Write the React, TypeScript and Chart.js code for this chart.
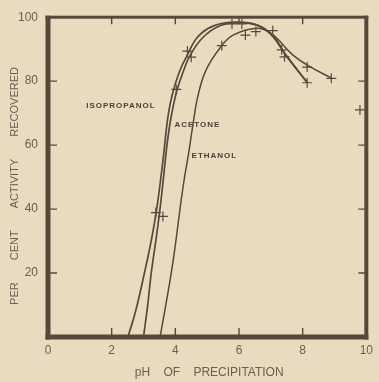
import React, { useEffect, useRef } from "react";
import { Chart, registerables } from "chart.js";

Chart.register(...registerables);

// Isopropanol curve
const isoPH = [2.51, 2.75, 3.04, 3.27, 3.44, 3.56, 3.65, 3.73, 3.83, 3.95, 4.15, 4.35, 4.7, 5.2, 5.9, 6.6, 7.06, 7.46, 8.15];
const isoV = [0, 8, 20.5, 31.5, 41.8, 51, 58.5, 66, 72.5, 77.5, 83.5, 87.6, 93.8, 97.3, 98.5, 97.5, 94, 88.3, 79.5];
// Acetone curve
const acePH = [3.0, 3.12, 3.25, 3.4, 3.53, 3.63, 3.72, 3.82, 3.93, 4.06, 4.25, 4.44, 4.85, 5.4, 6.0, 6.6, 7.1, 7.46, 8.15];
const aceV = [0, 9, 20.5, 31, 41, 50, 58.5, 66, 72, 77.5, 83, 87.6, 93.5, 97.3, 98.3, 97.3, 93.8, 88.3, 79.5];
// Ethanol curve
const ethPH = [3.52, 3.7, 3.88, 4.03, 4.17, 4.29, 4.41, 4.55, 4.71, 4.97, 5.42, 5.8, 6.5, 7.0, 7.68, 8.2, 8.9];
const ethV = [0, 10, 20.5, 31, 41.8, 50, 57, 66.2, 75.4, 83.6, 90.6, 94.3, 96.5, 95, 88.3, 84.7, 81];
// Measured points (crosses)
const crossPH = [3.39, 3.61, 4.03, 4.38, 4.5, 5.46, 5.78, 6.09, 6.2, 6.53, 7.06, 7.34, 7.43, 8.14, 8.14, 8.9, 9.8];
const crossV = [38.9, 37.7, 77.4, 89.4, 87.5, 91.1, 97.9, 97.9, 94.4, 95.5, 95.8, 89.8, 87.6, 84.4, 79.5, 80.9, 71];

// Curve labels
const labelTexts = ["ISOPROPANOL", "ACETONE", "ETHANOL"];
const labelPH = [1.2, 3.97, 4.51];
const labelV = [72.3, 66.2, 56.7];

// Axis ticks
const xTickValues = [0, 2, 4, 6, 8, 10];
const yTickValues = [0, 20, 40, 60, 80, 100];
const innerTicksX = [2, 4, 6, 8];
const innerTicksY = [20, 40, 60, 80];

const xTitle = "pH OF PRECIPITATION";
const yTitle = "PER CENT ACTIVITY RECOVERED";

const BG = "#e7dcc0";
const INK = "#5a473c";
const TEXT = "#6e5d51";
const FONT = "'Liberation Sans', Arial, sans-serif";

const toPts = (xs: number[], ys: number[]) => xs.map((x, i) => ({ x, y: ys[i] }));

const framePlugin = {
  id: "framePlugin",
  beforeDraw(chart: any) {
    const ctx = chart.ctx;
    ctx.save();
    ctx.fillStyle = BG;
    ctx.fillRect(0, 0, chart.width, chart.height);
    ctx.restore();
  },
  afterDraw(chart: any) {
    const ctx = chart.ctx as any;
    const { left, right, top, bottom } = chart.chartArea;
    const xs = chart.scales.x;
    const ys = chart.scales.y;
    ctx.save();
    ctx.fillStyle = INK;
    // frame
    ctx.fillRect(left - 2.5, top - 1.5, 5, bottom - top + 4);
    ctx.fillRect(left - 2.5, bottom - 2.5, right - left + 4.5, 5);
    ctx.fillRect(left - 2.5, top - 1.5, right - left + 4.5, 3);
    ctx.fillRect(right - 2, top - 1.5, 4, bottom - top + 4);
    // inward ticks
    ctx.strokeStyle = INK;
    ctx.lineWidth = 1.4;
    ctx.beginPath();
    innerTicksY.forEach((v) => {
      const y = ys.getPixelForValue(v);
      ctx.moveTo(left, y);
      ctx.lineTo(left + 9, y);
      ctx.moveTo(right, y);
      ctx.lineTo(right - 8, y);
    });
    innerTicksX.forEach((v) => {
      const x = xs.getPixelForValue(v);
      ctx.moveTo(x, bottom);
      ctx.lineTo(x, bottom - 9);
      ctx.moveTo(x, top);
      ctx.lineTo(x, top + 7);
    });
    ctx.stroke();

    // curve labels
    ctx.fillStyle = "#4e3e35";
    ctx.font = `bold 8px ${FONT}`;
    ctx.textAlign = "left";
    ctx.textBaseline = "middle";
    try { ctx.letterSpacing = "1px"; } catch (e) {}
    labelTexts.forEach((t, i) => {
      ctx.fillText(t, xs.getPixelForValue(labelPH[i]), ys.getPixelForValue(labelV[i]));
    });
    try { ctx.letterSpacing = "0px"; } catch (e) {}

    // axis titles
    ctx.fillStyle = TEXT;
    ctx.textAlign = "center";
    ctx.textBaseline = "middle";
    ctx.font = `12px ${FONT}`;
    try { ctx.wordSpacing = "10px"; } catch (e) {}
    ctx.fillText(xTitle, (left + right) / 2 + 2, chart.height - 9);
    ctx.font = `11px ${FONT}`;
    try { ctx.wordSpacing = "19px"; } catch (e) {}
    ctx.translate(15, 186);
    ctx.rotate(-Math.PI / 2);
    ctx.fillText(yTitle, 0, 0);
    try { ctx.wordSpacing = "0px"; } catch (e) {}
    ctx.restore();
  },
};

export default function App() {
  const ref = useRef<HTMLCanvasElement | null>(null);
  useEffect(() => {
    if (!ref.current) return;
    const lineDs = (data: { x: number; y: number }[], w: number) => ({
      type: "scatter" as const,
      data,
      showLine: true,
      borderColor: INK,
      borderWidth: w,
      pointRadius: 0,
      tension: 0.4,
      fill: false,
    });
    const chart = new Chart(ref.current, {
      type: "scatter",
      data: {
        datasets: [
          lineDs(toPts(isoPH, isoV), 1.7),
          lineDs(toPts(acePH, aceV), 1.7),
          lineDs(toPts(ethPH, ethV), 1.5),
          {
            type: "scatter",
            data: toPts(crossPH, crossV),
            showLine: false,
            pointStyle: "cross",
            pointRadius: 5,
            pointBorderWidth: 1.2,
            borderColor: INK,
            backgroundColor: INK,
          } as any,
        ],
      },
      options: {
        responsive: false,
        animation: false,
        layout: { padding: { top: 9, right: 6, left: 0, bottom: 0 } },
        plugins: { legend: { display: false }, tooltip: { enabled: false } },
        scales: {
          x: {
            type: "linear",
            min: 0,
            max: 10,
            afterBuildTicks: (s: any) => {
              s.ticks = xTickValues.map((v) => ({ value: v }));
            },
            ticks: { font: { family: FONT, size: 12 }, color: TEXT, padding: 6, maxRotation: 0 },
            grid: { display: false, drawTicks: false },
            border: { display: false },
            afterFit: (s: any) => {
              s.height = 45;
            },
          },
          y: {
            type: "linear",
            min: 0,
            max: 100,
            afterBuildTicks: (s: any) => {
              s.ticks = yTickValues.map((v) => ({ value: v }));
            },
            ticks: {
              font: { family: FONT, size: 12 },
              color: TEXT,
              padding: 10,
              callback: (v: any) => (v === 0 ? "" : String(v)),
            },
            grid: { display: false, drawTicks: false },
            border: { display: false },
            afterFit: (s: any) => {
              s.width = 48;
            },
          },
        },
      },
      plugins: [framePlugin],
    });
    return () => chart.destroy();
  }, []);
  return (
    <div style={{ position: "fixed", left: 0, top: 0, width: 379, height: 382 }}>
      <canvas ref={ref} width={379} height={382} style={{ display: "block", width: 379, height: 382 }} />
    </div>
  );
}
